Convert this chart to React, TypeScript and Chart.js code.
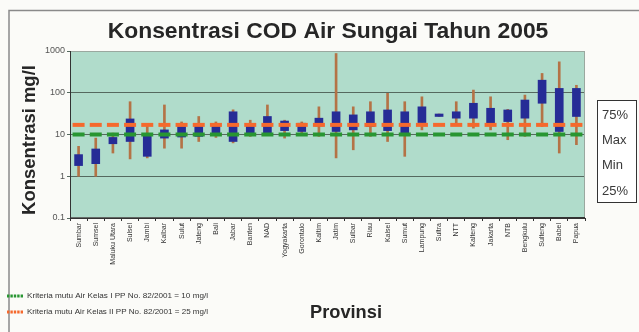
import React, { useEffect, useRef } from "react";
import { Chart, registerables } from "chart.js";

Chart.register(...registerables);

const provinces = [
  "Sumbar", "Sumsel", "Maluku Utara", "Sulsel", "Jambi", "Kalbar", "Sulut", "Jateng", "Bali", "Jabar",
  "Banten", "NAD", "Yogyakarta", "Gorontalo", "Kaltim", "Jatim", "Sulbar", "Riau", "Kalsel", "Sumut",
  "Lampung", "Sultra", "NTT", "Kalteng", "Jakarta", "NTB", "Bengkulu", "Sulteng", "Babel", "Papua",
];
const p25 = [1.8, 2.0, 6.0, 6.8, 3.0, 8.2, 8.7, 9, 9.8, 6.8, 9.8, 9.8, 12.4, 11.8, 16, 11.8, 12.9, 15.5, 12.4, 9.8, 19.3, 27, 24.6, 24.6, 18.6, 20.4, 24.6, 56, 11.8, 27];
const p75 = [3.3, 4.5, 8.5, 23.6, 10.2, 12.9, 15.5, 16, 17, 35, 16, 27, 21, 18.6, 24.6, 35, 29.5, 35, 38.7, 35, 46, 31, 35, 56, 42.5, 38.7, 67, 200, 127, 127];
const minVals = [1.0, 1.0, 3.6, 2.6, 2.75, 4.7, 4.7, 6.8, 8.5, 6.3, 9, 9.8, 8.2, 11, 9, 2.75, 4.3, 9, 6.8, 3.0, 12.9, 27, 18.6, 14.2, 12.9, 7.5, 9, 15.5, 3.6, 5.7];
const maxVals = [5.2, 8.2, 10.8, 61, 17, 51, 20, 27, 20, 39, 22, 51, 22, 20, 46, 870, 46, 61, 97, 61, 80, 31, 61, 116, 80, 40, 88, 290, 550, 151];
const kelasI = 10;
const kelasII = 17;
const yTicks = [0.1, 1, 10, 100, 1000];
const rightLegend = ["75%", "Max", "Min", "25%"];
const legendI = "Kriteria mutu Air Kelas I PP No. 82/2001 = 10 mg/l";
const legendII = "Kriteria mutu Air Kelas II PP No. 82/2001 = 25 mg/l";
const titleText = "Konsentrasi COD Air Sungai Tahun 2005";
const yTitle = "Konsentrasi mg/l";
const xTitle = "Provinsi";

const FONT = "'Liberation Sans', Arial, sans-serif";
const GREEN = "rgb(40,150,50)";
const ORANGE = "rgb(245,105,45)";

function fitText(ctx: CanvasRenderingContext2D, text: string, weight: string, width: number) {
  ctx.font = `${weight} 20px ${FONT}`;
  const w = ctx.measureText(text).width;
  return (20 * width) / w;
}

const decor = {
  id: "decor",
  beforeDraw(chart: any) {
    const { ctx, chartArea: a } = chart;
    ctx.save();
    ctx.fillStyle = "#fbfbf8";
    ctx.fillRect(0, 0, chart.width, chart.height);
    ctx.strokeStyle = "#8a8a8a";
    ctx.lineWidth = 1.5;
    ctx.beginPath();
    ctx.moveTo(9, chart.height);
    ctx.lineTo(9, 10.5);
    ctx.lineTo(chart.width, 10.5);
    ctx.stroke();
    ctx.fillStyle = "rgb(176,220,203)";
    ctx.fillRect(a.left, a.top, a.right - a.left, a.bottom - a.top);
    ctx.restore();
  },
  afterDraw(chart: any) {
    const { ctx, chartArea: a } = chart;
    ctx.save();
    ctx.strokeStyle = "#9aa89f";
    ctx.lineWidth = 1;
    ctx.strokeRect(a.left + 0.5, a.top + 0.5, a.right - a.left - 1, a.bottom - a.top - 1);
    ctx.strokeStyle = "#333";
    ctx.beginPath();
    ctx.moveTo(a.left + 0.5, a.top);
    ctx.lineTo(a.left + 0.5, a.bottom);
    ctx.lineTo(a.right, a.bottom - 0.5);
    ctx.stroke();

    // title
    const ts = fitText(ctx, titleText, "bold", 441);
    ctx.font = `bold ${ts}px ${FONT}`;
    ctx.fillStyle = "#262626";
    ctx.textAlign = "center";
    ctx.textBaseline = "alphabetic";
    ctx.fillText(titleText, 328, 38);

    // y title
    ctx.save();
    ctx.translate(30, 140);
    ctx.rotate(-Math.PI / 2);
    const ys = fitText(ctx, yTitle, "bold", 150);
    ctx.font = `bold ${ys}px ${FONT}`;
    ctx.textBaseline = "middle";
    ctx.fillText(yTitle, 0, 0);
    ctx.restore();

    // x title
    const xs = fitText(ctx, xTitle, "bold", 72);
    ctx.font = `bold ${xs}px ${FONT}`;
    ctx.textAlign = "left";
    ctx.textBaseline = "middle";
    ctx.fillText(xTitle, 310, 313);

    // bottom legend
    const rows: [string, string, number][] = [
      [GREEN, legendI, 296],
      [ORANGE, legendII, 312],
    ];
    for (const [c, t, y] of rows) {
      ctx.fillStyle = c;
      for (let i = 0; i < 5; i++) ctx.fillRect(7 + i * 3.4, y - 1.5, 2.4, 3);
      ctx.fillStyle = "#333";
      ctx.font = `8px ${FONT}`;
      const w = ctx.measureText(t).width;
      ctx.save();
      ctx.translate(27, y);
      ctx.scale(181 / w, 1);
      ctx.textAlign = "left";
      ctx.textBaseline = "middle";
      ctx.fillText(t, 0, 0);
      ctx.restore();
    }

    // right legend box
    ctx.fillStyle = "#ffffff";
    ctx.fillRect(597, 100, 40, 103);
    ctx.strokeStyle = "#333";
    ctx.lineWidth = 1;
    ctx.strokeRect(597.5, 100.5, 39, 102);
    ctx.fillStyle = "#3a3a3a";
    ctx.font = `13px ${FONT}`;
    ctx.textAlign = "left";
    ctx.textBaseline = "middle";
    const ly = [115, 140, 165, 191];
    rightLegend.forEach((t, i) => ctx.fillText(t, 602, ly[i]));
    ctx.restore();
  },
};

export default function App() {
  const ref = useRef<HTMLCanvasElement>(null);
  useEffect(() => {
    if (!ref.current) return;
    const chart = new Chart(ref.current, {
      type: "bar",
      data: {
        labels: provinces,
        datasets: [
          {
            type: "line",
            label: "Kelas II",
            data: provinces.map(() => kelasII),
            showLine: false,
            pointStyle: "line",
            pointRadius: 6,
            pointBorderWidth: 4,
            pointBorderColor: ORANGE,
            pointBackgroundColor: ORANGE,
            borderColor: ORANGE,
            order: 0,
          } as any,
          {
            type: "line",
            label: "Kelas I",
            data: provinces.map(() => kelasI),
            showLine: false,
            pointStyle: "line",
            pointRadius: 6,
            pointBorderWidth: 4,
            pointBorderColor: GREEN,
            pointBackgroundColor: GREEN,
            borderColor: GREEN,
            order: 0,
          } as any,
          {
            label: "Box",
            data: provinces.map((_, i) => [p25[i], p75[i]]),
            backgroundColor: "rgb(38,44,150)",
            barThickness: 8,
            grouped: false,
            order: 1,
          } as any,
          {
            label: "Whisker",
            data: provinces.map((_, i) => [minVals[i], maxVals[i]]),
            backgroundColor: "rgb(180,115,70)",
            barThickness: 2,
            grouped: false,
            order: 2,
          } as any,
        ],
      },
      options: {
        responsive: false,
        animation: false,
        layout: { padding: { top: 51, right: 54, left: 0, bottom: 0 } },
        plugins: { legend: { display: false }, tooltip: { enabled: false }, title: { display: false } },
        scales: {
          x: {
            type: "category",
            offset: true,
            afterFit: (s: any) => { s.height = 114; },
            grid: { display: true, drawOnChartArea: false, drawTicks: true, tickLength: 3, color: "#333", offset: true },
            border: { display: true, color: "#333" },
            ticks: {
              autoSkip: false,
              maxRotation: 90,
              minRotation: 90,
              padding: 2,
              color: "#333",
              font: { size: 7, family: FONT },
            },
          },
          y: {
            type: "logarithmic",
            min: 0.1,
            max: 1000,
            afterFit: (s: any) => { s.width = 70; },
            afterBuildTicks: (s: any) => { s.ticks = yTicks.map((v) => ({ value: v })); },
            grid: { color: "rgb(85,105,95)", lineWidth: 1, tickLength: 3 },
            border: { display: true, color: "#333" },
            ticks: {
              padding: 2,
              color: "#555",
              font: { size: 9, family: FONT },
              callback: (v: any) => String(v),
            },
          },
        },
      } as any,
      plugins: [decor],
    });
    return () => chart.destroy();
  }, []);
  return (
    <div style={{ position: "absolute", left: 0, top: 0, width: 639, height: 332 }}>
      <canvas ref={ref} width={639} height={332} style={{ width: 639, height: 332, display: "block" }} />
    </div>
  );
}
